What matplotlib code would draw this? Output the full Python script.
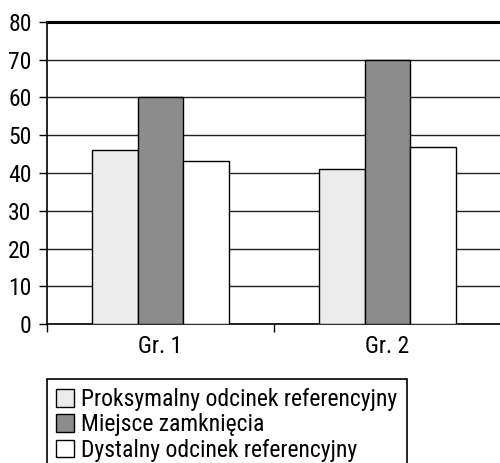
import matplotlib
matplotlib.use('Agg')
import matplotlib.pyplot as plt
from matplotlib import font_manager
from matplotlib.patches import Patch

# data
groups = ['Gr. 1', 'Gr. 2']
proksymalny = [46, 41]
miejsce = [60, 70]
dystalny = [43.3, 46.8]
series_names = ['Proksymalny odcinek referencyjny', 'Miejsce zamknięcia',
                'Dystalny odcinek referencyjny']
colors = ['#ececec', '#8c8c8c', '#ffffff']

# condensed font like Arial Narrow
names = {f.name for f in font_manager.fontManager.ttflist}
family = 'DejaVu Sans'
for cand in ['Liberation Sans Narrow', 'Arial Narrow', 'Roboto Condensed', 'Archivo Narrow']:
    if cand in names:
        family = cand
        break
plt.rcParams['font.family'] = [family, 'DejaVu Sans']
plt.rcParams['font.size'] = 17

fig = plt.figure(figsize=(5.0, 4.63), dpi=100)
ax = fig.add_axes([47 / 500, 1 - 324 / 463, 1 - 47 / 500 + 0.002, (324 - 22) / 463])

w = 0.2
x = list(range(len(groups)))
for i, (vals, c) in enumerate(zip([proksymalny, miejsce, dystalny], colors)):
    ax.bar([xi + (i - 1) * w for xi in x], vals, width=w, color=c,
           edgecolor='black', linewidth=1, zorder=3)

ax.set_xlim(-0.5, 1.5)
ax.set_ylim(0, 80)
ax.set_yticks(range(0, 81, 10))
ax.yaxis.grid(True, color='#222222', linewidth=1, zorder=0)
ax.set_axisbelow(True)

ax.set_xticks(x)
ax.set_xticklabels(groups)
ax.set_xticks([-0.5, 0.5, 1.5], minor=True)
ax.tick_params(axis='x', which='major', length=0, pad=8)
ax.tick_params(axis='x', which='minor', length=6, width=1, direction='out')
ax.tick_params(axis='y', length=6, width=1, direction='out', pad=5)

for s in ['left', 'bottom']:
    ax.spines[s].set_linewidth(1.2)
ax.spines['right'].set_visible(False)
ax.spines['top'].set_linewidth(2.2)

handles = [Patch(facecolor=c, edgecolor='black', linewidth=1) for c in colors]
leg = fig.legend(handles, series_names, loc='upper left',
                 bbox_to_anchor=(47 / 500, 1 - 379 / 463), fancybox=False,
                 edgecolor='black', framealpha=1, handlelength=0.78, handleheight=0.78,
                 handletextpad=0.3, borderpad=0.38, labelspacing=0.1, borderaxespad=0)
leg.get_frame().set_linewidth(1.2)

fig.savefig('out.png', dpi=100)
